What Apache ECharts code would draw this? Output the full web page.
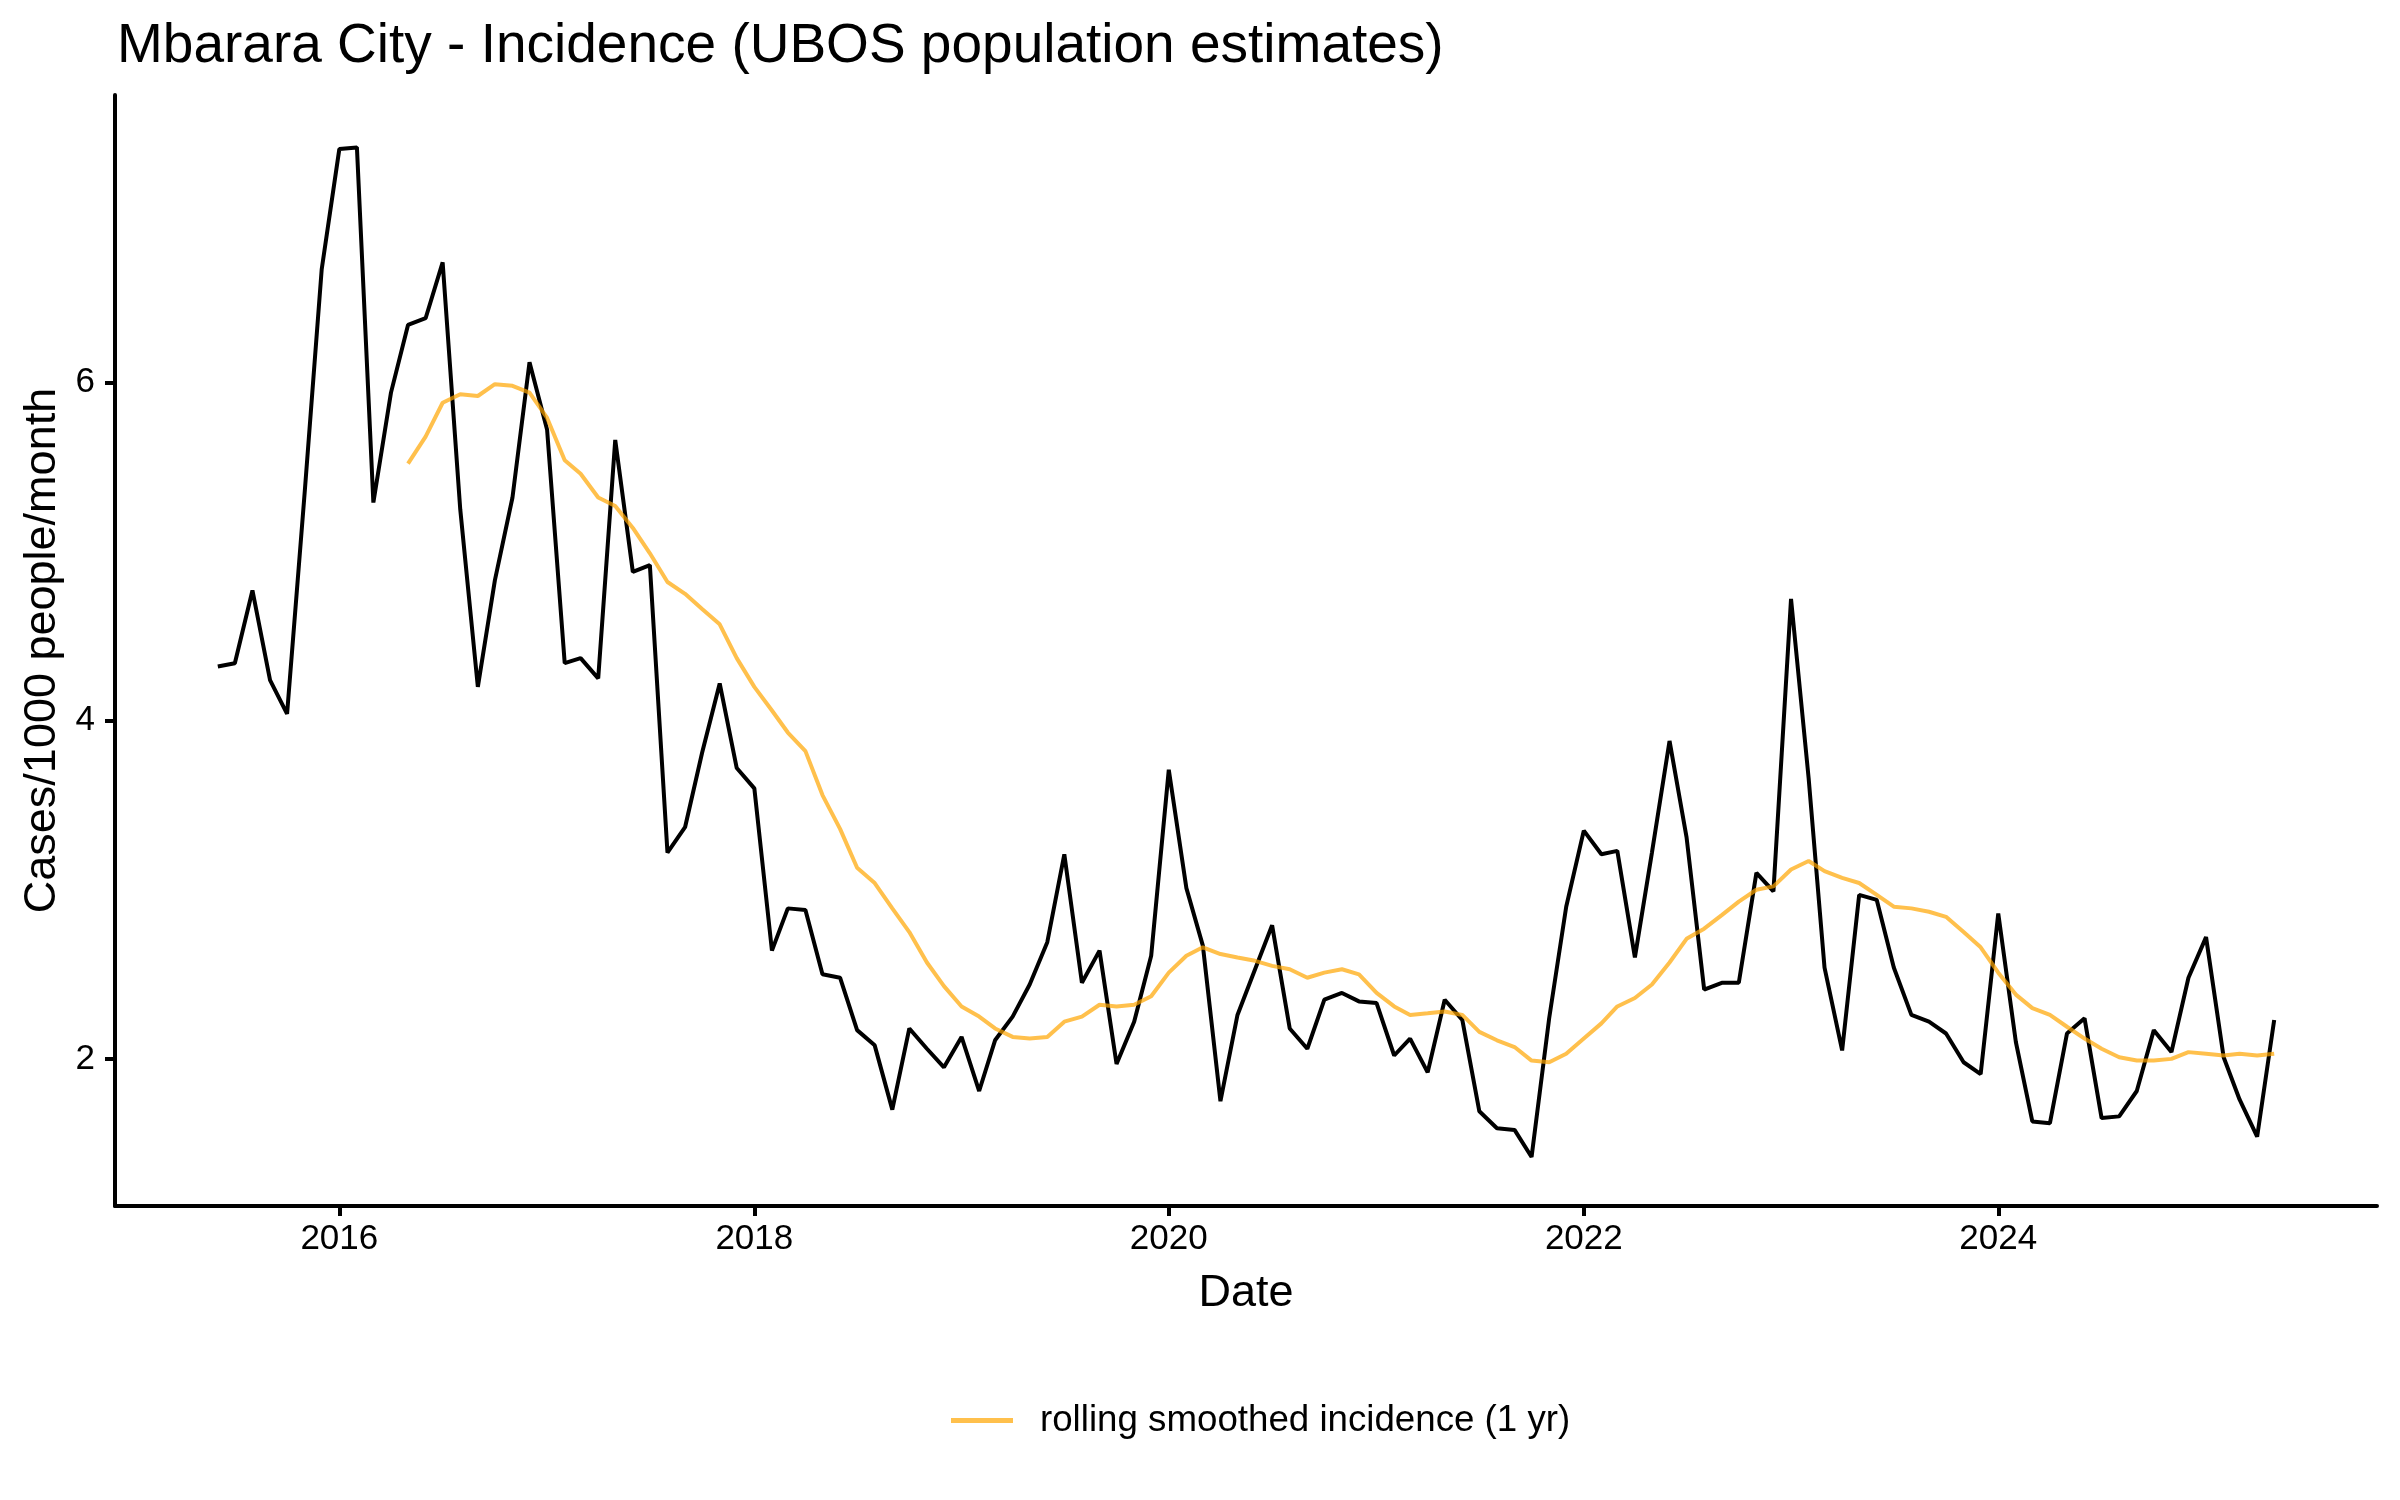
<!DOCTYPE html>
<html>
<head>
<meta charset="utf-8">
<script src="https://cdn.jsdelivr.net/npm/echarts@6/dist/echarts.min.js"></script>
<style>
html,body{margin:0;padding:0;background:#fff;}
#chart{width:2400px;height:1500px;}
</style>
</head>
<body>
<div id="chart"></div>
<script>
// Monthly observations
const incidenceStart = '2015-06';
const incidence = [
  4.32, 4.34, 4.77, 4.24, 4.04, 5.35, 6.67,
  7.38, 7.39, 5.29, 5.94, 6.34, 6.38, 6.71, 5.25, 4.20, 4.83, 5.32, 6.12,
  5.72, 4.34, 4.37, 4.25, 5.66, 4.88, 4.92, 3.22, 3.37, 3.81, 4.22, 3.72,
  3.60, 2.64, 2.89, 2.88, 2.50, 2.48, 2.17, 2.08, 1.70, 2.18, 2.06, 1.95,
  2.13, 1.81, 2.11, 2.25, 2.44, 2.69, 3.21, 2.45, 2.64, 1.97, 2.22, 2.61,
  3.71, 3.01, 2.67, 1.75, 2.26, 2.53, 2.79, 2.18, 2.06, 2.35, 2.39, 2.34,
  2.33, 2.02, 2.12, 1.92, 2.35, 2.23, 1.69, 1.59, 1.58, 1.42, 2.24, 2.90,
  3.35, 3.21, 3.23, 2.60, 3.22, 3.88, 3.31, 2.41, 2.45, 2.45, 3.10, 2.99,
  4.72, 3.66, 2.54, 2.05, 2.97, 2.94, 2.54, 2.26, 2.22, 2.15, 1.98, 1.91,
  2.86, 2.10, 1.63, 1.62, 2.15, 2.24, 1.65, 1.66, 1.81, 2.17, 2.04, 2.48,
  2.72, 2.01, 1.76, 1.54, 2.23
];
// Rolling smoothed incidence (1 yr)
const rollingStart = '2016-05';
const rolling = [
  5.52, 5.68, 5.88, 5.93, 5.92, 5.99, 5.98, 5.94,
  5.79, 5.54, 5.46, 5.32, 5.27, 5.14, 4.99, 4.82, 4.75, 4.66, 4.57, 4.37,
  4.20, 4.06, 3.93, 3.82, 3.56, 3.36, 3.13, 3.04, 2.89, 2.75, 2.57, 2.43,
  2.31, 2.25, 2.18, 2.13, 2.12, 2.13, 2.22, 2.25, 2.32, 2.31, 2.32, 2.37,
  2.51, 2.61, 2.66, 2.62, 2.60, 2.58, 2.55, 2.53, 2.48, 2.51, 2.53, 2.50,
  2.39, 2.31, 2.26, 2.27, 2.28, 2.26, 2.16, 2.11, 2.07, 1.99, 1.98, 2.03,
  2.12, 2.21, 2.31, 2.36, 2.44, 2.57, 2.71, 2.77, 2.85, 2.93, 3.00, 3.02,
  3.12, 3.17, 3.11, 3.07, 3.04, 2.97, 2.90, 2.89, 2.87, 2.84, 2.75, 2.66,
  2.51, 2.38, 2.30, 2.26, 2.19, 2.12, 2.06, 2.01, 1.99, 1.99, 2.00, 2.04,
  2.03, 2.02, 2.03, 2.02, 2.03
];
const xTickYears = [2016, 2018, 2020, 2022, 2024];
const yTicks = [2, 4, 6];

const titleText = 'Mbarara City - Incidence (UBOS population estimates)';
const xTitle = 'Date';
const yTitle = 'Cases/1000 people/month';
const legendName = 'rolling smoothed incidence (1 yr)';

// dates as days since epoch (like a Date scale)
const DAY = 86400000;
function dayNum(y, m) { return Date.UTC(y, m, 1) / DAY; }
function toPairs(start, values) {
  const [y0, m0] = start.split('-').map(Number);
  return values.map((v, i) => {
    const mIdx = (m0 - 1) + i;
    return [dayNum(y0 + Math.floor(mIdx / 12), mIdx % 12), v];
  });
}
const blackData = toPairs(incidenceStart, incidence);
const orangeData = toPairs(rollingStart, rolling);
const xFirst = blackData[0][0], xLast = blackData[blackData.length - 1][0];
const xPad = (xLast - xFirst) * 0.05;
const xTickDays = xTickYears.map(y => dayNum(y, 0));
const yearOfDay = d => new Date(d * DAY).getUTCFullYear();

const FONT = 'Liberation Sans, Arial, Helvetica, sans-serif';
const ORANGE = 'rgba(255,165,0,0.7)';

const chart = echarts.init(document.getElementById('chart'), null, {renderer: 'canvas'});
chart.setOption({
  backgroundColor: '#ffffff',
  animation: false,
  title: {
    text: titleText,
    left: 112,
    top: 14,
    textStyle: {fontFamily: FONT, fontSize: 55, fontWeight: 'normal', color: '#000'}
  },
  legend: {
    left: 946,
    top: 1397,
    itemWidth: 62,
    itemHeight: 5,
    data: [{name: legendName, icon: 'rect', itemStyle: {color: ORANGE}}],
    textStyle: {fontFamily: FONT, fontSize: 36.7, color: '#000', padding: [0, 0, 0, 22]}
  },
  grid: {left: 115, right: 23, top: 95, bottom: 294},
  xAxis: {
    type: 'value',
    min: xFirst - xPad,
    max: xLast + xPad,
    name: xTitle,
    nameLocation: 'middle',
    nameGap: 65,
    nameTextStyle: {fontFamily: FONT, fontSize: 45, color: '#000'},
    axisLine: {show: true, onZero: false, lineStyle: {color: '#000', width: 4}},
    axisTick: {show: true, length: 10, lineStyle: {color: '#000', width: 4}, customValues: xTickDays},
    axisLabel: {
      fontFamily: FONT, fontSize: 35, color: '#000', margin: 16,
      customValues: xTickDays,
      formatter: v => String(yearOfDay(v))
    },
    splitLine: {show: false}
  },
  yAxis: {
    type: 'value',
    min: 1.13,
    max: 7.70,
    name: yTitle,
    nameLocation: 'middle',
    nameGap: 50,
    nameTextStyle: {fontFamily: FONT, fontSize: 45, color: '#000'},
    axisLine: {show: true, onZero: false, lineStyle: {color: '#000', width: 4}},
    axisTick: {show: true, length: 10, lineStyle: {color: '#000', width: 4}, customValues: yTicks},
    axisLabel: {
      fontFamily: FONT, fontSize: 35, color: '#000', margin: 20,
      customValues: yTicks,
      formatter: v => String(Math.round(v))
    },
    splitLine: {show: false}
  },
  series: [
    {
      name: 'incidence',
      type: 'line',
      data: blackData,
      showSymbol: false,
      symbol: 'none',
      lineStyle: {color: '#000', width: 4},
      itemStyle: {color: '#000'},
      z: 2
    },
    {
      name: legendName,
      type: 'line',
      data: orangeData,
      showSymbol: false,
      symbol: 'none',
      lineStyle: {color: ORANGE, width: 4},
      itemStyle: {color: ORANGE},
      z: 3
    }
  ]
});
</script>
</body>
</html>
